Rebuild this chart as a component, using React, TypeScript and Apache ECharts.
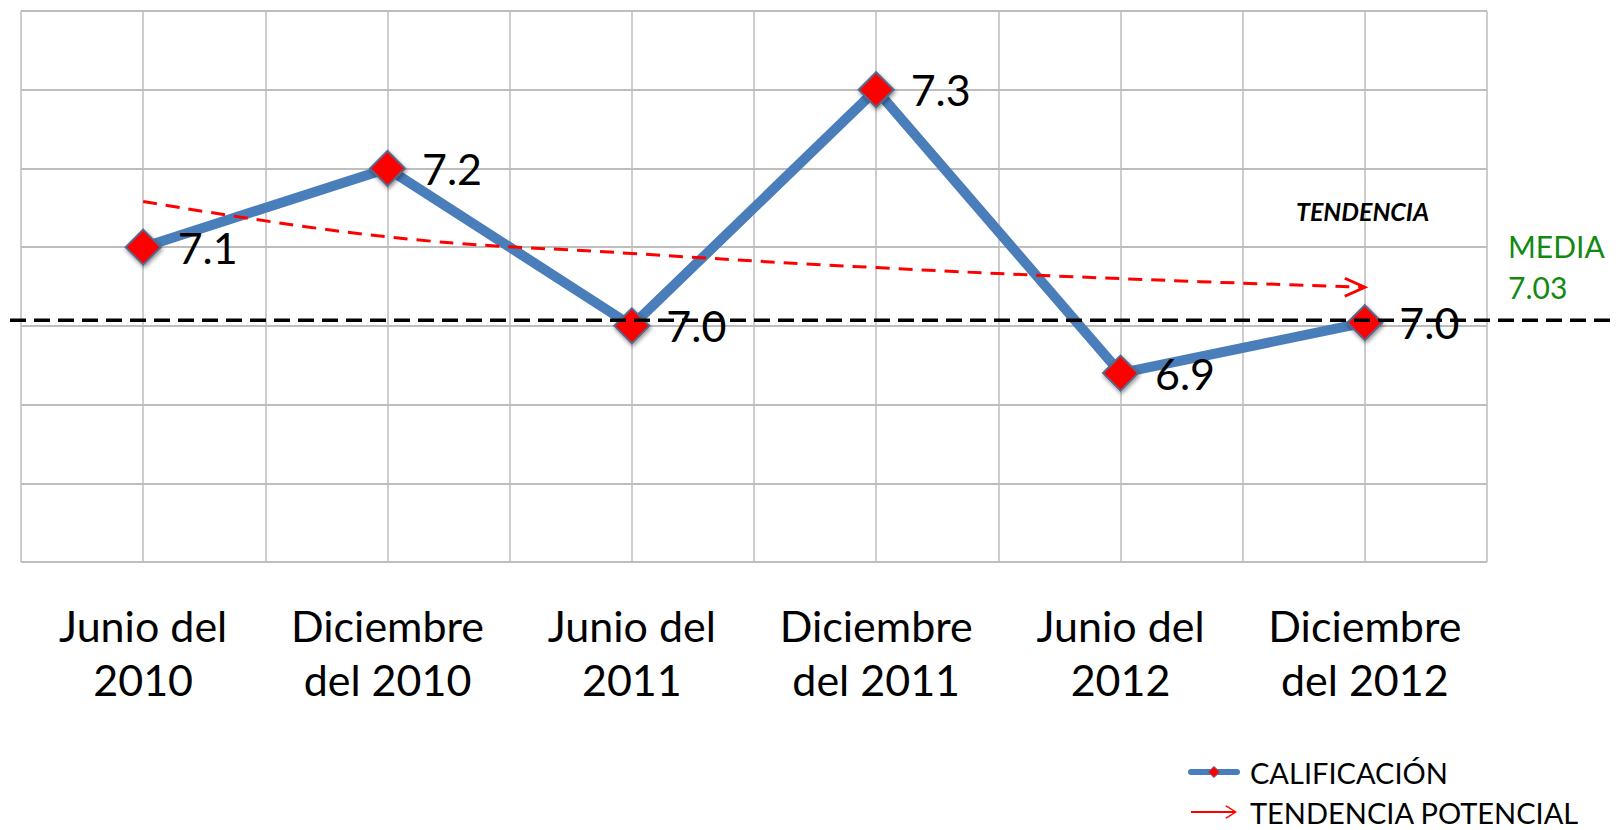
import React, { useEffect, useRef } from 'react';
import * as echarts from 'echarts';

// ---- data ----
const categories = [
  'Junio del\n2010',
  'Diciembre\ndel 2010',
  'Junio del\n2011',
  'Diciembre\ndel 2011',
  'Junio del\n2012',
  'Diciembre\ndel 2012',
];
const categoryPositions = [1, 3, 5, 7, 9, 11];
const calificacion = [7.1, 7.2, 7.0, 7.3, 6.94, 7.004];
const tendenciaPotencial = [7.158, 7.113, 7.092, 7.074, 7.06, 7.049];
const mediaText = '7.03';
const mediaLevel = 7.007;
const yMin = 6.7;
const yMax = 7.4;
const yStep = 0.1;
const xMin = 0;
const xMax = 12;

const FONT = 'Lato';

export default function App() {
  const ref = useRef<HTMLDivElement>(null);

  useEffect(() => {
    if (!ref.current) return;
    const chart = echarts.init(ref.current, undefined, { renderer: 'svg' });

    const calData = categoryPositions.map((x, i) => [x, calificacion[i]]);
    const trendData: any[] = categoryPositions.map((x, i) => [x, tendenciaPotencial[i]]);
    const last = trendData.length - 1;
    trendData[last] = {
      value: trendData[last],
      symbol: 'path://M0,0 L20,9 L0,18',
      symbolSize: [20, 18],
      symbolOffset: [-10, 0],
      itemStyle: { color: 'rgba(0,0,0,0)', borderColor: '#ff0000', borderWidth: 3 },
    };

    chart.setOption({
      animation: false,
      backgroundColor: '#ffffff',
      grid: { left: 21, right: 129, top: 11, bottom: 268 },
      xAxis: {
        type: 'value',
        min: xMin,
        max: xMax,
        interval: 1,
        axisLine: { show: false },
        axisTick: { show: false },
        splitLine: { show: true, lineStyle: { color: '#bdbdbd', width: 1.5 } },
        axisLabel: {
          formatter: (v: number) => {
            const idx = categoryPositions.indexOf(Math.round(v));
            return idx >= 0 ? categories[idx] : '';
          },
          fontFamily: FONT,
          fontSize: 43,
          color: '#000',
          lineHeight: 54,
          margin: 36,
        },
      },
      yAxis: {
        type: 'value',
        min: yMin,
        max: yMax,
        interval: yStep,
        axisLine: { show: false },
        axisTick: { show: false },
        axisLabel: { show: false },
        splitLine: { show: true, lineStyle: { color: '#a9a9a9', width: 1.5 } },
      },
      legend: {
        orient: 'vertical',
        left: 1183,
        top: 752,
        height: 74,
        itemWidth: 46,
        itemHeight: 14,
        itemGap: 10,
        selectedMode: false,
        textStyle: {
          fontFamily: FONT,
          fontSize: 29,
          color: '#000',
          lineHeight: 30,
          padding: [0, 0, 0, 8],
        },
        data: [
          {
            name: 'CALIFICACIÓN',
            lineStyle: { width: 6 },
            itemStyle: { borderWidth: 1, shadowBlur: 0, shadowOffsetX: 0, shadowOffsetY: 0 },
          },
          {
            name: 'TENDENCIA POTENCIAL',
            icon: 'path://M0,6 L45,6 L45,8 L0,8 Z M35,1.2 L36.2,0 L47,7 L36.2,14 L35,12.8 L44.5,7 Z',
            itemStyle: { color: '#ff0000', borderWidth: 0 },
          },
        ],
      },
      series: [
        {
          name: 'CALIFICACIÓN',
          type: 'line',
          data: calData,
          symbol: 'diamond',
          symbolSize: 35,
          lineStyle: { color: '#4a7ebb', width: 10, cap: 'round', join: 'round' },
          itemStyle: {
            color: '#ff0000',
            borderColor: '#56698a',
            borderWidth: 2,
            shadowBlur: 4,
            shadowColor: 'rgba(0,0,0,0.45)',
            shadowOffsetX: 1,
            shadowOffsetY: 2,
          },
          label: {
            show: true,
            position: 'right',
            distance: 16,
            formatter: (p: any) => Number(p.value[1]).toFixed(1),
            fontFamily: FONT,
            fontSize: 43,
            color: '#000',
          },
          z: 2,
        },
        {
          name: 'TENDENCIA POTENCIAL',
          type: 'line',
          data: trendData,
          smooth: 0.4,
          symbol: 'none',
          itemStyle: { color: '#ff0000' },
          lineStyle: { color: '#ff0000', width: 3, type: [14, 9] },
          z: 3,
          silent: true,
        },
      ],
    });

    const meanY = chart.convertToPixel({ yAxisIndex: 0 }, mediaLevel) as number;

    chart.setOption({
      graphic: [
        {
          type: 'text',
          id: 'tendencia',
          x: 1296,
          y: 211,
          style: {
            text: 'TENDENCIA',
            fontFamily: FONT,
            fontSize: 25,
            fontWeight: 'bold',
            fontStyle: 'italic',
            fill: '#000',
            verticalAlign: 'middle',
          },
        },
        {
          type: 'text',
          id: 'media',
          x: 1508,
          y: 266,
          style: {
            text: 'MEDIA\n' + mediaText,
            fontFamily: FONT,
            fontSize: 30,
            lineHeight: 41,
            fill: '#118a11',
            verticalAlign: 'middle',
          },
        },
        {
          type: 'line',
          id: 'meanLine',
          z: 100,
          shape: { x1: 10, y1: meanY, x2: 1616, y2: meanY },
          style: { stroke: '#000', lineWidth: 3.5, lineDash: [16, 8] },
        },
      ],
    });

    return () => chart.dispose();
  }, []);

  return (
    <div
      ref={ref}
      style={{ position: 'absolute', left: 0, top: 0, width: 1616, height: 830, background: '#fff' }}
    />
  );
}
